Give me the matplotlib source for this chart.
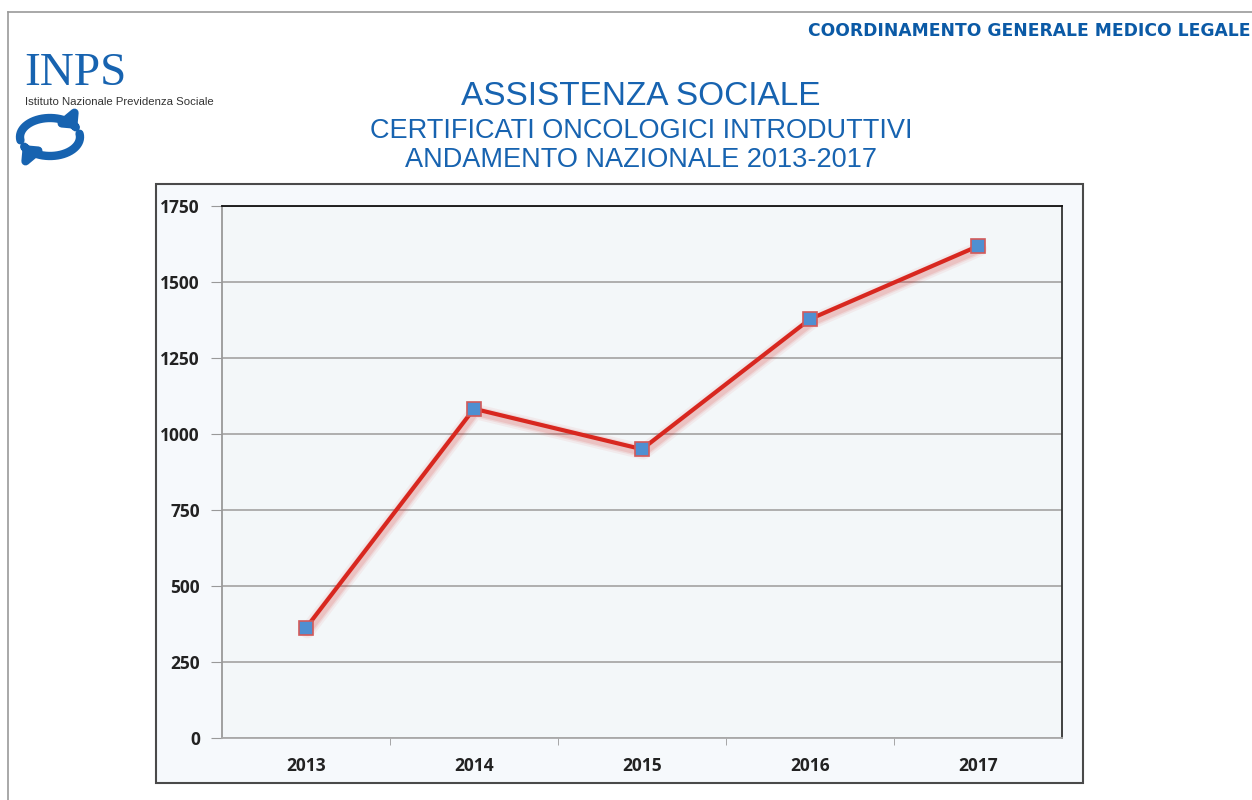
import matplotlib.pyplot as plt
import matplotlib.patheffects as pe
from matplotlib.patches import Rectangle, FancyArrowPatch
from matplotlib.path import Path
from matplotlib.lines import Line2D
import numpy as np

# data
anni = ['2013', '2014', '2015', '2016', '2017']
certificati = [362, 1083, 950, 1378, 1618]
y_ticks = [0, 250, 500, 750, 1000, 1250, 1500, 1750]

blu = '#1763b0'
rosso = '#d8271f'

fig = plt.figure(figsize=(12.52, 8), dpi=100)
fig.patch.set_facecolor('white')

W, H = 1252, 800
def fx(px):
    return px / W
def fy(py):
    return 1 - py / H

# page border (top and left)
fig.add_artist(Line2D([fx(8), 1], [fy(12), fy(12)], color='#9a9a9a', lw=1.2))
fig.add_artist(Line2D([fx(8), fx(8)], [fy(12), 0], color='#9a9a9a', lw=1.2))

# chart frame
fig.add_artist(Rectangle((fx(156), fy(783)), fx(1083) - fx(156), fy(184) - fy(783),
                         transform=fig.transFigure, facecolor='#f6f9fc',
                         edgecolor='#4a4a4a', lw=1.5, zorder=0))

# logo
fig.text(fx(24), fy(85), 'INPS', color=blu, fontsize=34, family='Liberation Serif',
         ha='left', va='baseline')
fig.text(fx(25), fy(105), 'Istituto Nazionale Previdenza Sociale', color='#333333',
         fontsize=8.2, family='Liberation Sans', ha='left', va='baseline')

# circular arrows (two arcs of an ellipse)
cx, cy, rx, ry = 50, 137, 30, 19
def arco(t0, t1):
    t = np.linspace(np.radians(t0), np.radians(t1), 30)
    pts = [(fx(cx + rx * np.cos(a)), fy(cy - ry * np.sin(a))) for a in t]
    return Path(pts)
for t0, t1 in [(190, 25), (10, -155)]:
    fig.add_artist(FancyArrowPatch(path=arco(t0, t1), transform=fig.transFigure,
                                   arrowstyle='-|>,head_width=4,head_length=4',
                                   color=blu, lw=6, mutation_scale=1.5))

# header texts
fig.text(0.999, fy(36), 'COORDINAMENTO GENERALE MEDICO LEGALE', color='#0b5aa6',
         fontsize=12.3, fontweight='bold', family='DejaVu Sans', ha='right', va='baseline')
fig.text(fx(641), fy(105), 'ASSISTENZA SOCIALE', color=blu, fontsize=24,
         family='Liberation Sans', ha='center', va='baseline')
fig.text(fx(641), fy(138), 'CERTIFICATI ONCOLOGICI INTRODUTTIVI', color=blu, fontsize=19.5,
         family='Liberation Sans', ha='center', va='baseline')
fig.text(fx(641), fy(167), 'ANDAMENTO NAZIONALE 2013-2017', color=blu, fontsize=19.5,
         family='Liberation Sans', ha='center', va='baseline')

# plot area
ax = fig.add_axes([fx(222), fy(738), fx(1062) - fx(222), fy(206) - fy(738)])
ax.set_facecolor('#f3f7f9')
x = np.arange(len(anni))

# soft glow under the line
for w, a in [(11, 0.06), (8, 0.09), (6, 0.12)]:
    ax.plot(x, certificati, color=rosso, lw=w, alpha=a, solid_capstyle='round',
            solid_joinstyle='round', zorder=2,
            path_effects=[pe.Stroke(offset=(1, -2))])
ax.plot(x, certificati, color=rosso, lw=3, zorder=3)
ax.plot(x, certificati, ls='none', marker='s', markersize=10,
        markerfacecolor='#4f8fd1', markeredgecolor='#d35a5a', markeredgewidth=1.2, zorder=4)

ax.set_xlim(-0.5, len(anni) - 0.5)
ax.set_ylim(0, 1750)
ax.set_yticks(y_ticks)
ax.set_yticklabels([str(v) for v in y_ticks])
ax.set_xticks(x)
ax.set_xticklabels(anni)
ax.set_xticks(np.arange(0.5, len(anni) - 0.5, 1), minor=True)

ax.grid(axis='y', color='#a9a9a9', lw=1.3)
ax.set_axisbelow(True)

ax.tick_params(axis='x', which='major', length=0, pad=14)
ax.tick_params(axis='x', which='minor', length=5, color='#999999', direction='out')
ax.tick_params(axis='y', length=8, color='#999999', pad=8)
for lab in ax.get_xticklabels() + ax.get_yticklabels():
    lab.set_fontfamily('Open Sans')
    lab.set_fontweight('bold')
    lab.set_fontsize(12.5)
    lab.set_color('#222222')

ax.spines['top'].set_color('#111111')
ax.spines['right'].set_color('#333333')
ax.spines['left'].set_color('#999999')
ax.spines['bottom'].set_color('#a9a9a9')
for s in ax.spines.values():
    s.set_linewidth(1.3)

fig.savefig('out.png', dpi=100)
